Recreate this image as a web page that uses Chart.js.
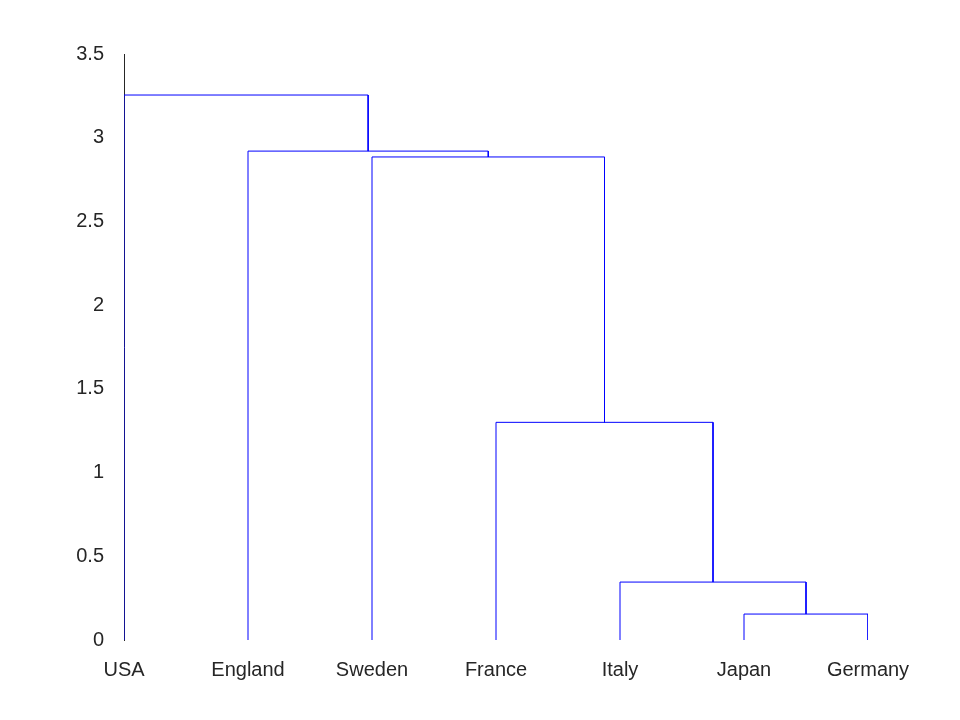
<!DOCTYPE html>
<html><head><meta charset="utf-8">
<script src="https://cdn.jsdelivr.net/npm/chart.js@4"></script>
<style>html,body{margin:0;background:#fff}#w{width:960px;height:720px}</style>
</head><body><div id="w"><canvas id="c"></canvas></div>
<script>
const categories = ["USA","England","Sweden","France","Italy","Japan","Germany"];
const mergeLeft  = [5, 4, 3, 2, 1, 0];
const mergeRight = [6, 7, 8, 9, 10, 11];
const heights    = [0.155, 0.346, 1.30, 2.885, 2.92, 3.255];
const yTicks = [0,0.5,1,1.5,2,2.5,3,3.5];

const pos = categories.map((_, i) => i + 1);
const hgt = categories.map(() => 0);
const datasets = [];
mergeLeft.forEach((l, k) => {
  const r = mergeRight[k], h = heights[k];
  datasets.push({
    data: [{x: pos[l], y: hgt[l]}, {x: pos[l], y: h}, {x: pos[r], y: h}, {x: pos[r], y: hgt[r]}],
    showLine: true, borderColor: '#0000ff', borderWidth: 1, pointRadius: 0, fill: false, tension: 0
  });
  pos.push((pos[l] + pos[r]) / 2);
  hgt.push(h);
});

new Chart(document.getElementById('c'), {
  type: 'scatter',
  data: { datasets },
  options: {
    responsive: true, maintainAspectRatio: false, animation: false,
    layout: { padding: { left: 0, right: 92, top: 54, bottom: 0 } },
    plugins: { legend: { display: false }, tooltip: { enabled: false } },
    scales: {
      x: {
        type: 'linear', min: 1, max: 7,
        afterFit: s => { s.height = 80; },
        afterBuildTicks: s => { s.ticks = categories.map((_, i) => ({ value: i + 1 })); },
        ticks: { callback: v => categories[v - 1], color: '#262626', font: { family: 'Liberation Sans, Arial', size: 20 }, padding: 10, maxRotation: 0, autoSkip: false },
        grid: { display: false }, border: { display: false }
      },
      y: {
        min: 0, max: 3.5,
        afterFit: s => { s.width = 124; },
        afterBuildTicks: s => { s.ticks = yTicks.map(v => ({ value: v })); },
        ticks: { callback: v => String(v), color: '#262626', font: { family: 'Liberation Sans, Arial', size: 20 }, padding: 12 },
        grid: { display: false }, border: { display: true, color: '#262626', width: 1 }
      }
    }
  }
});
</script></body></html>
